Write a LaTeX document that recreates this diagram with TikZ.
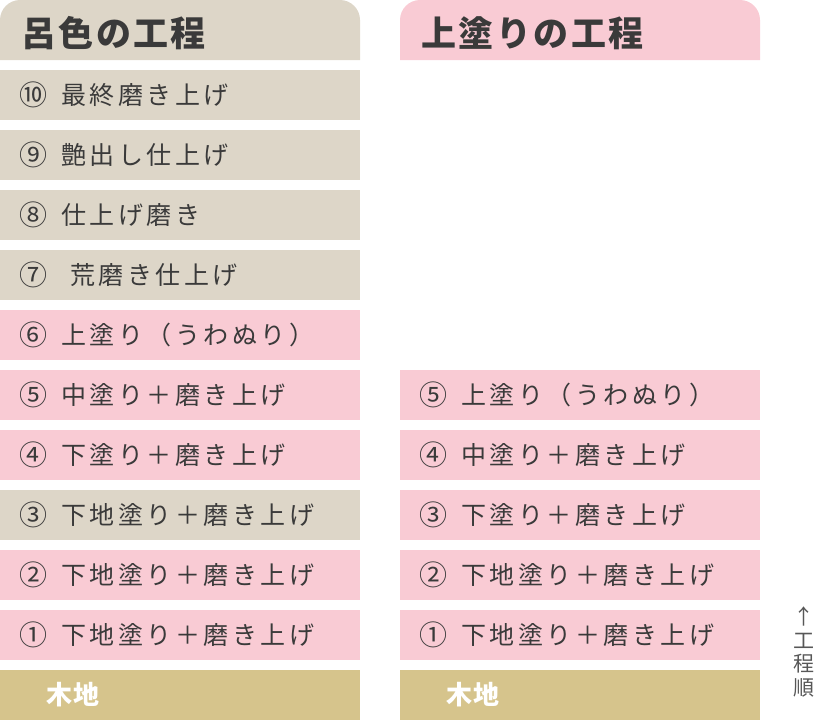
\documentclass[tikz,border=0pt]{standalone}
\usepackage{fontspec}
\setmainfont{Noto Sans CJK JP}
\usepackage{tikz}
\usetikzlibrary{positioning}
\definecolor{urushibeige}{RGB}{221,214,200}
\definecolor{urushipink}{RGB}{249,203,212}
\definecolor{kijigold}{RGB}{214,196,140}
\definecolor{inkgray}{RGB}{58,58,58}
\newcommand{\stepnum}[1]{\makebox[42pt][l]{\raisebox{-1pt}{\fontsize{28}{28}\selectfont #1}}}

\begin{document}
\begin{tikzpicture}[x=1pt,y=-1pt,
    stepbox/.style={rectangle,anchor=west,minimum height=50pt,text width=322pt,
        inner xsep=19pt,inner ysep=0pt,align=left,text=inkgray,
        font=\fontsize{25}{28}\selectfont\addfontfeature{LetterSpace=14}},
    headtext/.style={anchor=west,inner sep=0pt,text=inkgray,
        font=\fontsize{35}{38}\selectfont\bfseries\addfontfeature{LetterSpace=7}},
    kijibox/.style={stepbox,fill=kijigold,text=white,inner xsep=46pt,text width=268pt,
        font=\fontsize{26}{28}\selectfont\bfseries\addfontfeature{LetterSpace=4}}]
    \useasboundingbox (0,0) rectangle (820,720);

    % Headers
    \fill[urushibeige] (0,60) [rounded corners=20pt] -- (0,0) -- (360,0) [sharp corners] -- (360,60) -- cycle;
    \fill[urushipink] (400,60) [rounded corners=20pt] -- (400,0) -- (760,0) [sharp corners] -- (760,60) -- cycle;
    \node[headtext] (rohead) at (21,33) {呂色の工程};
    \node[headtext] (uwahead) at (421,33) {上塗りの工程};

    % Roiro steps
    \foreach \i/\n/\txt/\col in {1/⑩/最終磨き上げ/urushibeige, 2/⑨/艶出し仕上げ/urushibeige,
        3/⑧/仕上げ磨き/urushibeige, 4/⑦/\hspace{9pt}荒磨き仕上げ/urushibeige,
        5/⑥/上塗り（うわぬり）/urushipink, 6/⑤/中塗り＋磨き上げ/urushipink,
        7/④/下塗り＋磨き上げ/urushipink, 8/③/下地塗り＋磨き上げ/urushibeige,
        9/②/下地塗り＋磨き上げ/urushipink, 10/①/下地塗り＋磨き上げ/urushipink} {
        \node[stepbox,fill=\col] (ro\i) at (0,35+60*\i) {\stepnum{\n}\txt};
    }
    \node[kijibox] (rokiji) at (0,695) {木地};

    % Uwanuri steps
    \foreach \i/\n/\txt in {6/⑤/上塗り（うわぬり）, 7/④/中塗り＋磨き上げ,
        8/③/下塗り＋磨き上げ, 9/②/下地塗り＋磨き上げ, 10/①/下地塗り＋磨き上げ} {
        \node[stepbox,fill=urushipink] (uw\i) at (400,35+60*\i) {\stepnum{\n}\txt};
    }
    \node[kijibox] (uwkiji) at (400,695) {木地};

    % Order label
    \node[align=center,inner sep=0pt,text=inkgray!85,font=\fontsize{21}{23.5}\selectfont] (order) at (804,652) {↑\\工\\程\\順};
\end{tikzpicture}
\end{document}
